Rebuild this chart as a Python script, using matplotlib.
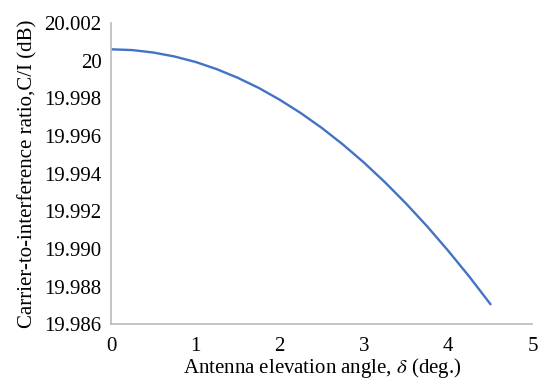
import matplotlib
matplotlib.use('Agg')
import matplotlib.pyplot as plt

plt.rcParams['font.family'] = ['Liberation Serif', 'DejaVu Serif']
plt.rcParams['mathtext.fontset'] = 'stix'

# elevation angle (deg) and C/I (dB)
angle = [0, 0.25, 0.5, 0.75, 1.0, 1.25, 1.5, 1.75, 2.0, 2.25,
         2.5, 2.75, 3.0, 3.25, 3.5, 3.75, 4.0, 4.25, 4.5]
ci = [20.00061, 20.00057, 20.00044, 20.00023, 19.99994, 19.99956,
      19.99910, 19.99856, 19.99793, 19.99722, 19.99643, 19.99555,
      19.99459, 19.99354, 19.99241, 19.99120, 19.98990, 19.98853, 19.98707]

yticks = [19.986, 19.988, 19.990, 19.992, 19.994, 19.996, 19.998, 20.000, 20.002]
ylabels = ['19.986', '19.988', '19.990', '19.992', '19.994', '19.996', '19.998', '20', '20.002']
xticks = [0, 1, 2, 3, 4, 5]

fig = plt.figure(figsize=(5.4, 3.8), dpi=100)
ax = fig.add_axes([0.206, 0.147, 0.780, 0.792])

ax.plot(angle, ci, color='#4472C4', lw=1.7)

ax.set_xlim(0, 5)
ax.set_ylim(19.986, 20.002)
ax.set_xticks(xticks)
ax.set_xticklabels([str(v) for v in xticks])
ax.set_yticks(yticks)
ax.set_yticklabels(ylabels)
ax.tick_params(length=0, labelsize=15, pad=7)
ax.tick_params(axis='x', pad=9)

for s in ['top', 'right']:
    ax.spines[s].set_visible(False)
for s in ['left', 'bottom']:
    ax.spines[s].set_color('#BFBFBF')
    ax.spines[s].set_linewidth(1.3)

ax.set_xlabel('Antenna elevation angle, $\\delta$ (deg.)', fontsize=15, labelpad=0)
ax.set_ylabel('Carrier-to-interference ratio,C/I (dB)', fontsize=15, labelpad=5)

fig.savefig('out.png', dpi=100)
